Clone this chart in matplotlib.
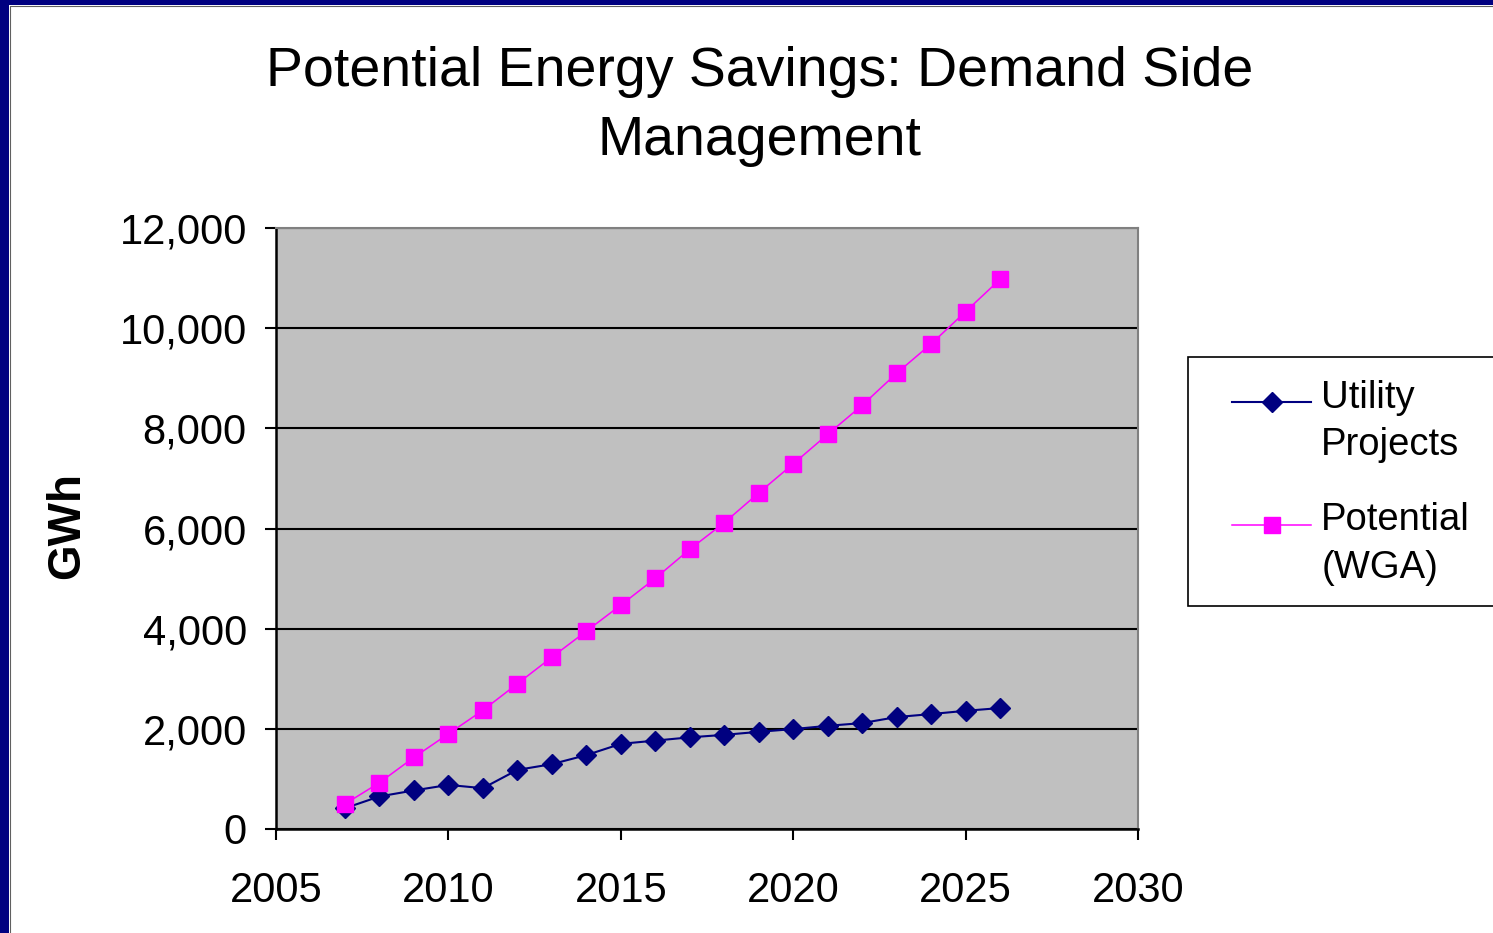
import numpy as np
import matplotlib.pyplot as plt
from matplotlib.patches import Rectangle
from matplotlib.lines import Line2D
from matplotlib.legend_handler import HandlerLine2D
from matplotlib.transforms import Affine2D
from matplotlib.ticker import FuncFormatter

plt.rcParams['font.family'] = ['Liberation Sans', 'DejaVu Sans']

# data
years = [2007, 2008, 2009, 2010, 2011, 2012, 2013, 2014, 2015, 2016,
         2017, 2018, 2019, 2020, 2021, 2022, 2023, 2024, 2025, 2026]
utility = [415, 650, 770, 880, 815, 1180, 1295, 1475, 1700, 1765,
           1830, 1880, 1940, 1995, 2060, 2115, 2235, 2295, 2360, 2415]
potential = [500, 925, 1430, 1900, 2370, 2900, 3430, 3950, 4470, 5005,
             5585, 6115, 6710, 7290, 7880, 8460, 9100, 9685, 10330, 10975]
series_names = ['Utility\nProjects', 'Potential\n(WGA)']


class RaisedHandler(HandlerLine2D):
    # legend handle sits next to the first line of the two-line label
    def create_artists(self, legend, orig_handle, xdescent, ydescent, width,
                       height, fontsize, trans):
        arts = super().create_artists(legend, orig_handle, xdescent, ydescent,
                                      width, height, fontsize, trans)
        for a in arts:
            a.set_transform(Affine2D().translate(0, 14.5) + trans)
        return arts


W, H = 1493, 933
fig = plt.figure(figsize=(W / 100, H / 100), dpi=100)
fig.patch.set_facecolor('white')

# navy frame on left and top edges
fig.patches.append(Rectangle((0, 0), 9 / W, 1, transform=fig.transFigure,
                             facecolor='#000080', edgecolor='none', zorder=0))
fig.patches.append(Rectangle((0, 1 - 5 / H), 1, 5 / H, transform=fig.transFigure,
                             facecolor='#000080', edgecolor='none', zorder=0))
fig.lines.append(Line2D([9.5 / W, 9.5 / W, 1], [0, 1 - 5.5 / H, 1 - 5.5 / H],
                        transform=fig.transFigure, color='#606060', lw=0.8))

ax = fig.add_axes([276 / W, 1 - 829 / H, (1138 - 276) / W, (829 - 228) / H])
ax.set_facecolor('#C0C0C0')

l1, = ax.plot(years, utility, color='#000080', lw=1.5, marker='D', ms=10,
              markeredgecolor='#000080', zorder=3)
l2, = ax.plot(years, potential, color='#FF00FF', lw=1.1, marker='s', ms=11,
              markeredgecolor='#FF00FF', zorder=3)

ax.set_xlim(2005, 2030)
ax.set_ylim(0, 12000)
ax.set_xticks(range(2005, 2031, 5))
ax.set_yticks(range(0, 12001, 2000))
ax.yaxis.set_major_formatter(FuncFormatter(lambda v, p: f'{v:,.0f}'))
ax.yaxis.grid(True, color='black', lw=1.5)
ax.set_axisbelow(True)

ax.tick_params(axis='both', labelsize=30, direction='out', length=8, width=1.5,
               colors='black')
ax.tick_params(axis='x', pad=22)
ax.tick_params(axis='y', pad=13)
for s in ['left', 'bottom']:
    ax.spines[s].set_linewidth(1.8)
    ax.spines[s].set_color('black')
for s in ['top', 'right']:
    ax.spines[s].set_linewidth(1.5)
    ax.spines[s].set_color('#808080')

ax.set_ylabel('GWh', fontsize=33, fontweight='bold', labelpad=22)
ax.yaxis.label.set_y(0.505)

fig.text(0.509, 1 - 46 / H, 'Potential Energy Savings: Demand Side\nManagement',
         ha='center', va='top', fontsize=40, linespacing=1.42)

# legend frame runs off the right edge of the figure
fig.patches.append(Rectangle((1188 / W, 1 - 606 / H), (1510 - 1188) / W,
                             (606 - 357) / H, transform=fig.transFigure,
                             facecolor='white', edgecolor='black', lw=1.2,
                             zorder=1))
leg = fig.legend([l1, l2], series_names, loc='upper left',
                 bbox_to_anchor=(1232 / W, 1 - 380 / H), borderaxespad=0,
                 borderpad=0, fontsize=27.5, frameon=False, numpoints=1,
                 handlelength=2.07, handletextpad=0.27, labelspacing=1.02,
                 handler_map={Line2D: RaisedHandler()})
leg.set_zorder(2)
for t in leg.get_texts():
    t.set_linespacing(1.41)

fig.savefig('out.png', dpi=100)
